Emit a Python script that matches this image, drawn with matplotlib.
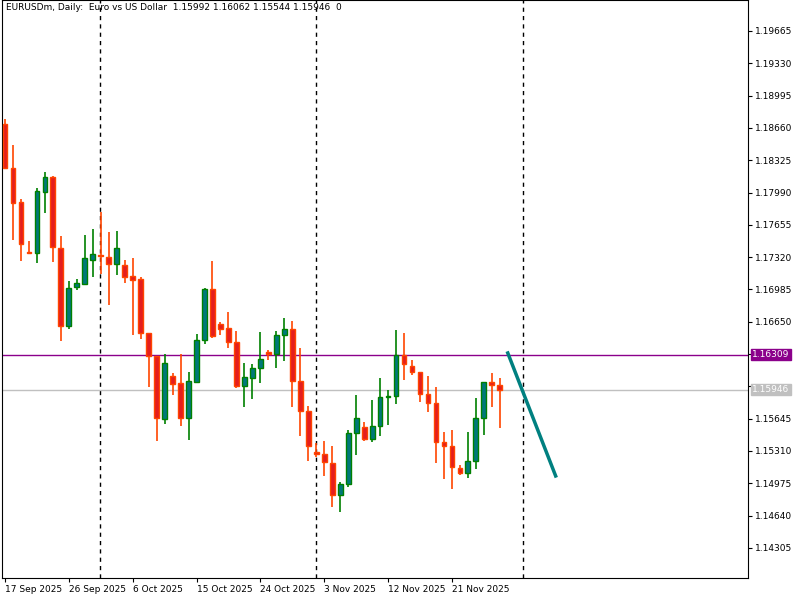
import matplotlib
matplotlib.use("Agg")
import matplotlib.pyplot as plt
from matplotlib.patches import Rectangle

opens = [1.18700,1.18244,1.17892,1.17373,1.17363,1.17995,1.18151,1.17415,1.16606,1.17010,
         1.17042,1.17290,1.17342,1.17321,1.17249,1.17238,1.17124,1.17093,1.16533,1.16295,
         1.15642,1.16088,1.16015,1.15652,1.16025,1.16461,1.16990,1.16627,1.16585,1.16440,
         1.15984,1.16067,1.16171,1.16337,1.16316,1.16513,1.16575,1.16036,1.15725,1.15300,
         1.15279,1.15186,1.14854,1.14968,1.15497,1.15559,1.15435,1.15569,1.15870,1.15881,
         1.16306,1.16191,1.16130,1.15901,1.15807,1.15404,1.15362,1.15134,1.15082,1.15206,
         1.15652,1.16025,1.15992]
highs = [1.18750,1.18483,1.17923,1.17487,1.18037,1.18203,1.18161,1.17539,1.17073,1.17093,
         1.17550,1.17612,1.17788,1.17581,1.17591,1.17290,1.17311,1.17114,1.16533,1.16295,
         1.16316,1.16119,1.16316,1.16130,1.16523,1.17000,1.17280,1.16648,1.16751,1.16554,
         1.16223,1.16212,1.16544,1.16358,1.16554,1.16689,1.16658,1.16378,1.15777,1.15393,
         1.15414,1.15362,1.14989,1.15528,1.15891,1.15611,1.15839,1.16067,1.15943,1.16565,
         1.16533,1.16254,1.16130,1.16088,1.15974,1.15508,1.15528,1.15165,1.15508,1.15860,
         1.16025,1.16119,1.16062]
lows = [1.18244,1.17498,1.17280,1.17363,1.17259,1.17778,1.17270,1.16451,1.16575,1.16979,
        1.17042,1.17114,1.17145,1.16824,1.17135,1.17052,1.16513,1.16471,1.15974,1.15414,
        1.15590,1.15891,1.15569,1.15424,1.16015,1.16419,1.16481,1.16513,1.16378,1.15963,
        1.15766,1.15849,1.16015,1.16254,1.16171,1.16243,1.15766,1.15466,1.15206,1.15248,
        1.15051,1.14729,1.14677,1.14937,1.15269,1.15414,1.15404,1.15466,1.15580,1.15797,
        1.16046,1.16098,1.15818,1.15714,1.15186,1.15019,1.14916,1.15061,1.15030,1.15123,
        1.15477,1.15766,1.15544]
closes = [1.18244,1.17881,1.17456,1.17363,1.18006,1.18151,1.17425,1.16606,1.17000,1.17052,
          1.17311,1.17353,1.17332,1.17249,1.17415,1.17114,1.17083,1.16533,1.16295,1.15652,
          1.16223,1.16005,1.15652,1.16036,1.16461,1.16990,1.16502,1.16575,1.16440,1.15984,
          1.16077,1.16171,1.16264,1.16316,1.16513,1.16575,1.16036,1.15725,1.15362,1.15279,
          1.15196,1.14854,1.14968,1.15497,1.15652,1.15435,1.15569,1.15870,1.15881,1.16306,
          1.16212,1.16130,1.15901,1.15807,1.15404,1.15362,1.15144,1.15082,1.15206,1.15652,
          1.16025,1.15994,1.15946]

date_labels = ["17 Sep 2025","26 Sep 2025","6 Oct 2025","15 Oct 2025","24 Oct 2025",
               "3 Nov 2025","12 Nov 2025","21 Nov 2025"]
date_bars = [0, 8, 16, 24, 32, 40, 48, 56]
separator_bars = [11.9, 39, 64.9]
price_ticks = [1.19665,1.19330,1.18995,1.18660,1.18325,1.17990,1.17655,1.17320,1.16985,
               1.16650,1.16315,1.15980,1.15645,1.15310,1.14975,1.14640,1.14305]
hidden_ticks = [1.16315, 1.15980]
level_purple = 1.16309
level_last = 1.15946
trend_x = [63, 69]
trend_y = [1.16326, 1.15051]

fig = plt.figure(figsize=(8, 6), dpi=100)
ax = fig.add_axes([2/800, 22/600, 746/800, 578/600])
ax.set_xlim(-0.375, 93.1)
ax.set_ylim(1.13993, 1.19986)

w = 0.6
for i, (o, h, l, c) in enumerate(zip(opens, highs, lows, closes)):
    up = c >= o
    edge = "#008000" if up else "#ff4500"
    fill = "#00787a" if up else "#e41e1e"
    ax.plot([i, i], [l, h], color=edge, lw=1.2, zorder=2, solid_capstyle="butt")
    bot, top = min(o, c), max(o, c)
    ax.add_patch(Rectangle((i - w/2, bot), w, max(top - bot, 0.00002),
                           facecolor=fill, edgecolor=edge, lw=1.0, zorder=3))

for b in separator_bars:
    ax.axvline(b, color="black", ls=(0, (3, 3)), lw=1, zorder=1)

ax.axhline(level_purple, color="#8b008b", lw=1, zorder=1)
ax.axhline(level_last, color="#c0c0c0", lw=1, zorder=1)
ax.plot(trend_x, trend_y, color="#008080", lw=2.5, zorder=4)

ax.yaxis.tick_right()
ax.set_yticks(price_ticks)
ax.set_yticklabels(["" if p in hidden_ticks else f"{p:.5f}" for p in price_ticks])
ax.set_xticks(date_bars)
ax.set_xticklabels(date_labels, ha="left")
ax.tick_params(axis="both", labelsize=6.5, length=3, direction="out", pad=2)
for s in ax.spines.values():
    s.set_color("black")

for val, col in [(level_purple, "#8b008b"), (level_last, "#c0c0c0")]:
    ax.annotate(f"{val:.5f}", xy=(1.0, val), xycoords=("axes fraction", "data"),
                xytext=(3, 0), textcoords="offset points", va="center", ha="left",
                fontsize=6.5, color="white",
                bbox=dict(boxstyle="square,pad=0.15", fc=col, ec=col))

ax.text(0.005, 0.995, "EURUSDm, Daily:  Euro vs US Dollar  1.15992 1.16062 1.15544 1.15946  0",
        transform=ax.transAxes, fontsize=6.5, va="top", ha="left")

fig.savefig("out.png", dpi=100)
